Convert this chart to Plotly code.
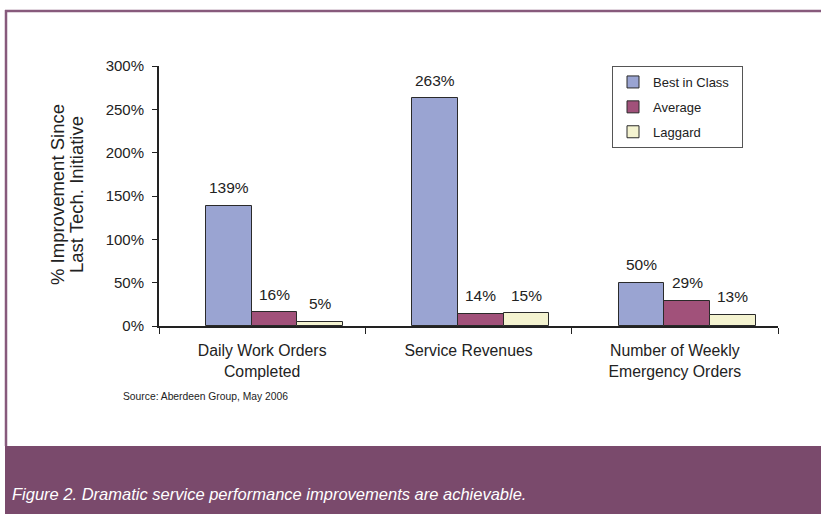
import plotly.graph_objects as go

categories = ["Daily Work Orders<br>Completed", "Service Revenues", "Number of Weekly<br>Emergency Orders"]
series_names = ["Best in Class", "Average", "Laggard"]
best_in_class = [139, 263, 50]
average = [16, 14, 29]
laggard = [5, 15, 13]
y_ticks = [0, 50, 100, 150, 200, 250, 300]
y_tick_labels = ["0%", "50%", "100%", "150%", "200%", "250%", "300%"]
y_title_lines = ["% Improvement Since", "Last Tech. Initiative"]

colors = ["#9AA4D2", "#A1517A", "#F4F3D0"]
series = [best_in_class, average, laggard]

W, H = 821, 514
PL, PR, PT, PB = 159, 778, 66, 326  # plot area in pixels


def px(xp):
    return (xp - PL) / (PR - PL)


def py(yp):
    return (PB - yp) / (PB - PT)


bar_w = 0.221
offsets = [-0.272, -0.051, 0.170]
xs = list(range(len(categories)))

fig = go.Figure()
for name, vals, col, off in zip(series_names, series, colors, offsets):
    fig.add_trace(go.Bar(
        x=xs, y=vals, name=name + "&nbsp;&nbsp;", width=bar_w, offset=off,
        marker=dict(color=col, line=dict(color="#2a2a2a", width=1)),
        legendgroup=name,
    ))

annotations = []
for vals, off in zip(series, offsets):
    for xi, v in zip(xs, vals):
        annotations.append(dict(
            x=xi + off + bar_w / 2, y=v, xref="x", yref="y",
            text=f"{v}%", showarrow=False, yshift=18,
            font=dict(size=15.5, color="#222"),
        ))

# y-axis title, two lines
for line, xp in zip(y_title_lines, [57, 76]):
    annotations.append(dict(
        x=px(xp), y=py(195), xref="paper", yref="paper", xanchor="center", yanchor="middle",
        text=line, textangle=-90,
        showarrow=False, font=dict(size=18.5, color="#222"),
    ))
# source note
annotations.append(dict(
    x=px(121), y=py(404), xref="paper", yref="paper", xanchor="left",
    text="Source: Aberdeen Group, May 2006", showarrow=False,
    font=dict(size=10.3, color="#222"),
))
# caption
annotations.append(dict(
    x=px(10), y=py(494), xref="paper", yref="paper", xanchor="left", yanchor="middle",
    text="<i>Figure 2. Dramatic service performance improvements are achievable.</i>",
    showarrow=False, font=dict(size=16.5, color="#ffffff"),
))

frame_col = "#7A4A6C"
shapes = [
    dict(type="rect", xref="paper", yref="paper", x0=px(5), x1=px(W + 2),
         y0=py(H + 2), y1=py(446), fillcolor=frame_col, line=dict(width=0), layer="below"),
    dict(type="line", xref="paper", yref="paper", x0=px(5), x1=px(W + 2),
         y0=py(11), y1=py(11), line=dict(color="#875A7C", width=2.5)),
    dict(type="line", xref="paper", yref="paper", x0=px(6), x1=px(6),
         y0=py(10), y1=py(446), line=dict(color="#875A7C", width=2.5)),
]

fig.update_layout(
    width=W, height=H,
    margin=dict(l=PL, r=W - PR, t=PT, b=H - PB),
    paper_bgcolor="white", plot_bgcolor="white",
    font=dict(family="Liberation Sans, Arial, sans-serif", color="#222"),
    showlegend=True,
    legend=dict(
        x=px(612), y=py(66), xanchor="left", yanchor="top",
        bordercolor="#555", borderwidth=1, bgcolor="white",
        font=dict(size=13, color="#222"),
        traceorder="grouped", tracegroupgap=5,
    ),
    annotations=annotations,
    shapes=shapes,
    bargap=0,
)
fig.update_xaxes(
    range=[-0.5, 2.5], tickvals=xs, ticktext=categories,
    ticks="", showline=True, linecolor="#222", linewidth=2,
    tickfont=dict(size=15.8, color="#222"), showgrid=False, zeroline=False,
    ticklabelstandoff=9,
    minor=dict(tickvals=[-0.5, 0.5, 1.5, 2.5], ticks="outside", ticklen=6,
               tickcolor="#222", tickwidth=1),
)
fig.update_yaxes(
    range=[0, 300], tickvals=y_ticks, ticktext=y_tick_labels,
    ticks="outside", ticklen=5, tickcolor="#222", showline=True,
    linecolor="#222", linewidth=2, showgrid=False, zeroline=False,
    tickfont=dict(size=15, color="#222"), ticklabelstandoff=5,
)

fig.write_html("out.html")
